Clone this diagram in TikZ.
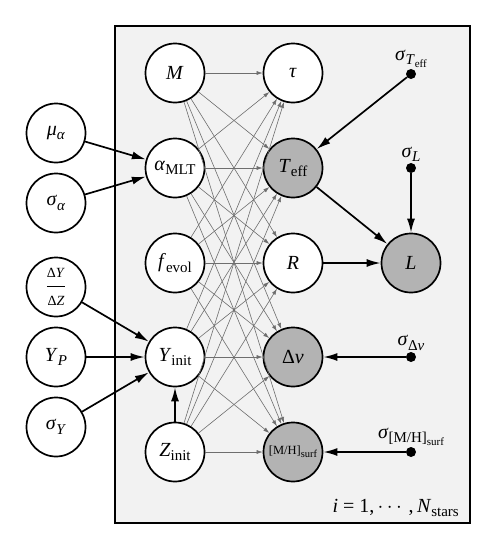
\documentclass[tikz,border=0pt]{standalone}
\usepackage{amsmath}
\usepackage{fontspec}
\setmainfont{Liberation Serif}
\usetikzlibrary{arrows.meta}
\definecolor{platebg}{HTML}{F2F2F2}
\definecolor{obsfill}{HTML}{B3B3B3}
\definecolor{thinedge}{HTML}{6E6E6E}
\newcommand{\subtxt}[2]{#1\raisebox{-4.5pt}{\fontsize{15}{17}\selectfont #2}}
\newcommand{\subsubtxt}[2]{#1\raisebox{-3pt}{\fontsize{10.5}{12}\selectfont #2}}
\begin{document}
\begin{tikzpicture}[x=1pt,y=-1pt,
  var/.style={circle,draw,line width=1.7pt,minimum size=59pt,inner sep=0pt,fill=white,
    font=\fontsize{20}{23}\selectfont},
  obs/.style={var,fill=obsfill},
  dotnode/.style={circle,fill=black,inner sep=0pt,minimum size=10pt},
  siglabel/.style={anchor=south,inner sep=1pt,font=\fontsize{20}{23}\selectfont},
  strongedge/.style={line width=1.7pt,-{Latex[length=14pt,width=8pt]}},
  weakedge/.style={line width=0.6pt,draw=thinedge,-{Latex[length=6pt,width=4pt]}}
]
\useasboundingbox (0,0) rectangle (497,550);
\draw[line width=1.7pt,fill=platebg] (115,26) rectangle (470,523);

% left column
\node[var] (mua) at (56,133) {\subtxt{\textit{μ}}{\textit{α}}};
\node[var] (siga) at (56,203) {\subtxt{\textit{σ}}{\textit{α}}};
\node[var] (dydz) at (56,287) {$\dfrac{\text{\fontsize{14}{16}\selectfont Δ\textit{Y}}}{\text{\fontsize{14}{16}\selectfont Δ\textit{Z}}}$};
\node[var] (yp) at (56,357) {\subtxt{\textit{Y}}{\textit{P}}};
\node[var] (sigy) at (56,427) {\subtxt{\textit{σ}}{\textit{Y}}};

% column 2
\node[var] (m) at (175,73) {\textit{M}};
\node[var] (amlt) at (175,168) {\subtxt{\textit{α}}{MLT}};
\node[var] (fevol) at (175,263) {\subtxt{\textit{f}}{evol}};
\node[var] (yinit) at (175,357) {\subtxt{\textit{Y}}{init}};
\node[var] (zinit) at (175,452) {\subtxt{\textit{Z}}{init}};

% column 3
\node[var] (tau) at (293,73) {\textit{τ}};
\node[obs] (teff) at (293,168) {\subtxt{\textit{T}}{eff}};
\node[var] (r) at (293,263) {\textit{R}};
\node[obs] (dnu) at (293,357) {Δ\textit{ν}};
\node[obs] (mh) at (293,452) {\fontsize{12.5}{14}\selectfont [M/H]\subsubtxt{}{surf}};

% column 4
\node[obs] (l) at (411,263) {\textit{L}};

% dots
\node[dotnode] (steff) at (411,74) {};
\node[dotnode] (sl) at (411,168) {};
\node[dotnode] (sdnu) at (411,357) {};
\node[dotnode] (smh) at (411,452) {};

\node[siglabel] (steffl) at (steff.north) {\textit{σ}\raisebox{-4.5pt}{\fontsize{15}{17}\selectfont\textit{T}\raisebox{-2.5pt}{\fontsize{11}{12}\selectfont eff}}};
\node[siglabel] (sll) at (sl.north) {\subtxt{\textit{σ}}{\textit{L}}};
\node[siglabel] (sdnul) at (sdnu.north) {\subtxt{\textit{σ}}{Δ\textit{ν}}};
\node[siglabel] (smhl) at (smh.north) {\textit{σ}\raisebox{-4.5pt}{\fontsize{15}{17}\selectfont [M/H]\raisebox{-2.5pt}{\fontsize{11}{12}\selectfont surf}}};

\node[anchor=base east,inner sep=0pt,font=\fontsize{20}{23}\selectfont] (plabel) at (459,512)
  {\textit{i} = 1,\,$\cdots$\,,\,\subtxt{\textit{N}}{stars}};

% weak edges: complete bipartite
\foreach \s in {m,amlt,fevol,yinit,zinit}{
  \foreach \t in {tau,teff,r,dnu,mh}{
    \draw[weakedge] (\s) -- (\t);
  }
}

% strong edges
\draw[strongedge] (mua) -- (amlt);
\draw[strongedge] (siga) -- (amlt);
\draw[strongedge] (dydz) -- (yinit);
\draw[strongedge] (yp) -- (yinit);
\draw[strongedge] (sigy) -- (yinit);
\draw[strongedge] (zinit) -- (yinit);
\draw[strongedge] (steff) -- (teff);
\draw[strongedge] (teff) -- (l);
\draw[strongedge] (r) -- (l);
\draw[strongedge] (sl) -- (l);
\draw[strongedge] (sdnu) -- (dnu);
\draw[strongedge] (smh) -- (mh);
\end{tikzpicture}
\end{document}
